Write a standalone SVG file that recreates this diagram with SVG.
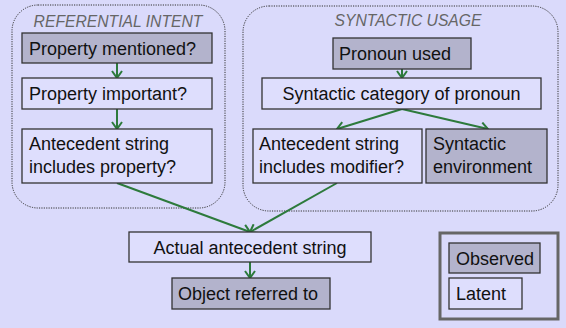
<svg xmlns="http://www.w3.org/2000/svg" width="566" height="328" viewBox="0 0 566 328">
<defs>
<style>
.bg{fill:#DADAFB}
.grp{fill:none;stroke:#333;stroke-width:1;stroke-dasharray:1.2 1.2}
.obs{fill:#B3B3CC;stroke:#333;stroke-width:1.3}
.lat{fill:#DEDEFD;stroke:#333;stroke-width:1.3}
.t{font-family:"Liberation Sans",Arial,sans-serif;font-size:18px;fill:#111}
.c{text-anchor:middle}
.title{font-family:"Liberation Sans",Arial,sans-serif;font-size:15.7px;font-style:italic;fill:#666;text-anchor:middle}
.edge{stroke:#2D7A3C;stroke-width:2;fill:none}
.leg{fill:none;stroke:#666;stroke-width:3}
</style>
<marker id="arr" markerUnits="userSpaceOnUse" markerWidth="12" markerHeight="12" refX="8" refY="6" orient="auto" viewBox="0 0 12 12">
<path d="M1,1 L8,6 L1,11" fill="none" stroke="#2D7A3C" stroke-width="2"/>
</marker>
</defs>
<rect class="bg" x="0" y="0" width="566" height="328"/>
<g id="group-referential">
<rect class="grp" x="12" y="5" width="213" height="203" rx="26"/>
<text class="title" x="118" y="27">REFERENTIAL INTENT</text>
</g>
<g id="group-syntactic">
<rect class="grp" x="243" y="6" width="315" height="205" rx="26"/>
<text class="title" x="408" y="26">SYNTACTIC USAGE</text>
</g>
<g id="connectors">
<line class="edge" x1="117" y1="63" x2="117" y2="78" marker-end="url(#arr)"/>
<line class="edge" x1="117" y1="109" x2="117" y2="129" marker-end="url(#arr)"/>
<line class="edge" x1="402" y1="69" x2="402" y2="78" marker-end="url(#arr)"/>
<line class="edge" x1="402" y1="109" x2="337" y2="129" marker-end="url(#arr)"/>
<line class="edge" x1="402" y1="109" x2="488" y2="129" marker-end="url(#arr)"/>
<line class="edge" x1="117" y1="183" x2="250" y2="232" marker-end="url(#arr)"/>
<line class="edge" x1="337" y1="183" x2="250" y2="232" marker-end="url(#arr)"/>
<line class="edge" x1="250" y1="262" x2="250" y2="278" marker-end="url(#arr)"/>
</g>
<g id="property-mentioned">
<rect class="obs" x="22" y="33" width="190" height="30"/>
<text class="t" x="29" y="55">Property mentioned?</text>
</g>
<g id="property-important">
<rect class="lat" x="22" y="78" width="190" height="31"/>
<text class="t" x="29" y="100">Property important?</text>
</g>
<g id="antecedent-property">
<rect class="lat" x="22" y="129" width="190" height="54"/>
<text class="t" x="29" y="150">Antecedent string</text>
<text class="t" x="29" y="173">includes property?</text>
</g>
<g id="pronoun-used">
<rect class="obs" x="333" y="38" width="138" height="31"/>
<text class="t" x="339" y="60">Pronoun used</text>
</g>
<g id="syntactic-category">
<rect class="lat" x="262" y="78" width="279" height="31"/>
<text class="t c" x="401.5" y="100">Syntactic category of pronoun</text>
</g>
<g id="antecedent-modifier">
<rect class="lat" x="253" y="129" width="169" height="54"/>
<text class="t" x="259" y="150">Antecedent string</text>
<text class="t" x="259" y="173">includes modifier?</text>
</g>
<g id="syntactic-environment">
<rect class="obs" x="426" y="129" width="121" height="54"/>
<text class="t" x="433" y="150">Syntactic</text>
<text class="t" x="433" y="173">environment</text>
</g>
<g id="actual-antecedent">
<rect class="lat" x="129" y="232" width="242" height="30"/>
<text class="t c" x="250" y="254">Actual antecedent string</text>
</g>
<g id="object-referred">
<rect class="obs" x="172" y="278" width="158" height="31"/>
<text class="t" x="178" y="300">Object referred to</text>
</g>
<g id="legend">
<rect class="leg" x="440" y="233" width="118" height="86"/>
<rect class="obs" x="449" y="243" width="91" height="30"/>
<text class="t" x="456" y="265">Observed</text>
<rect class="lat" x="449" y="278" width="73" height="31"/>
<text class="t" x="456" y="300">Latent</text>
</g>
</svg>
